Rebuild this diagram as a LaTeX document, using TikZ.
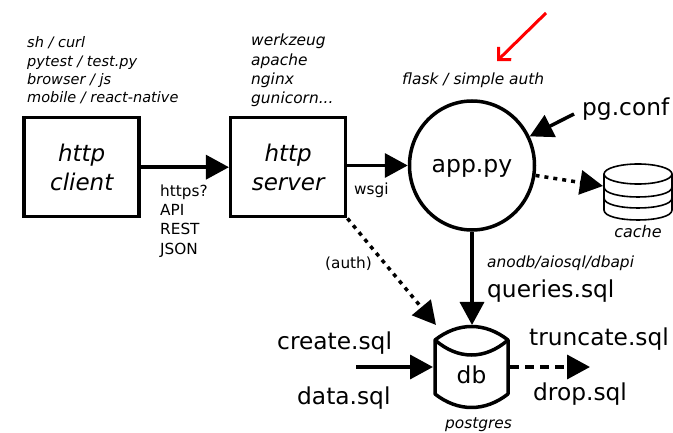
\documentclass[tikz,border=0pt]{standalone}
\usepackage{fontspec}
\setmainfont{DejaVu Sans}
\usetikzlibrary{arrows.meta}
\usetikzlibrary{shapes.geometric}
\usetikzlibrary{positioning}

\tikzset{
  bigtext/.style={inner sep=0pt, font=\fontsize{23.3}{28}\selectfont},
  smalltext/.style={inner sep=0pt, align=left, anchor=west, font=\fontsize{15.3}{19.2}\selectfont},
  toolnote/.style={inner sep=0pt, align=left, anchor=west, font=\fontsize{14.5}{18.3}\selectfont\itshape},
  widenote/.style={toolnote, font=\fontsize{15.4}{19.2}\selectfont\itshape},
  boxnode/.style={draw, line width=3.5pt, minimum width=115pt, minimum height=99pt, inner sep=0pt, align=center, font=\fontsize{23}{29}\selectfont\itshape},
  flow/.style={line width=3.5pt, -{Triangle[length=23pt,width=24pt]}},
  dotflow/.style={flow, dash pattern=on 4pt off 5pt},
  dashflow/.style={flow, dash pattern=on 9pt off 6pt},
}

\begin{document}
\begin{tikzpicture}[x=1pt, y=-1pt]
\useasboundingbox (0,0) rectangle (673,433);
\node[boxnode] (client) at (81.7,167.2) {http\\client};
\node[boxnode] (server) at (288.2,167.2) {http\\server};
\node[draw, ellipse, line width=3.5pt, minimum width=125pt, minimum height=129pt, inner sep=0pt, text depth=0pt, font=\fontsize{23.5}{28}\selectfont] (app) at (472,165.5) {app.py};
\node[toolnote] (clienttools) at (27,70.5) {sh / curl\\pytest / test.py\\browser / js\\mobile / react-native};
\node[widenote] (servertools) at (251,70.5) {werkzeug\\apache\\nginx\\gunicorn...};
\node[smalltext] (protocol) at (160,221) {https?\\API\\REST\\JSON};
\node[smalltext] (wsgi) at (354,190) {wsgi};
\node[smalltext] (auth) at (325,264) {(auth)};
\node[widenote] (flask) at (402,80) {flask / simple auth};
\node[bigtext, anchor=west] (pgconf) at (582,109) {pg.conf};
\node[widenote, anchor=center, font=\fontsize{16}{19}\selectfont\itshape] (cachelabel) at (638,232) {cache};
\node[widenote] (anodb) at (487,263) {anodb/aiosql/dbapi};
\node[bigtext, anchor=west] (queries) at (487,291) {queries.sql};
\node[bigtext, anchor=west] (create) at (277,343) {create.sql};
\node[bigtext, anchor=west] (data) at (297,398) {data.sql};
\node[bigtext, anchor=west] (truncate) at (529,339) {truncate.sql};
\node[bigtext, anchor=west] (drop) at (533,394) {drop.sql};
\node[bigtext] (db) at (471.5,375) {db};
\node[widenote, anchor=center] (postgres) at (478.5,425) {postgres};
% db can
\draw[line width=3.5pt, line join=round] (435,340) .. controls (458,322) and (485,322) .. (508,340) -- (508,394) .. controls (485,412) and (458,412) .. (435,394) -- cycle;
\draw[line width=3.5pt] (435,340) .. controls (458,360) and (485,360) .. (508,340);
% cache stack
\draw[line width=1.6pt] (638,174) ellipse [x radius=34, y radius=10];
\draw[line width=1.6pt] (604,174) -- (604,210) (672,174) -- (672,210);
\foreach \ypos in {187,198,210} {
  \draw[line width=1.6pt] (604,\ypos) .. controls (604,\ypos+13.3) and (672,\ypos+13.3) .. (672,\ypos);
}
\coordinate (cachein) at (603,186);
\coordinate (dbtop) at (472,325);
\coordinate (dbauth) at (436,325);
\coordinate (dbwest) at (433,367);
\coordinate (dbeast) at (510,367);
\coordinate (datain) at (356,367);
\coordinate (dropout) at (590,367);
\coordinate (pgout) at (574,114);
\coordinate (redstart) at (546,13);
\coordinate (redend) at (497,61);
\draw[flow] (client) -- (server);
\draw[flow] (server.east |- app.west) -- (app.west);
\draw[flow] (app) -- (dbtop);
\draw[flow] (pgout) -- (app);
\draw[dotflow] (app) -- (cachein);
\draw[dotflow] (server.south east) -- (dbauth);
\draw[flow] (datain) -- (dbwest);
\draw[dashflow] (dbeast) -- (dropout);
\draw[red, line width=3pt, -{Straight Barb[length=9pt,width=18pt]}] (redstart) -- (redend);
\end{tikzpicture}
\end{document}
